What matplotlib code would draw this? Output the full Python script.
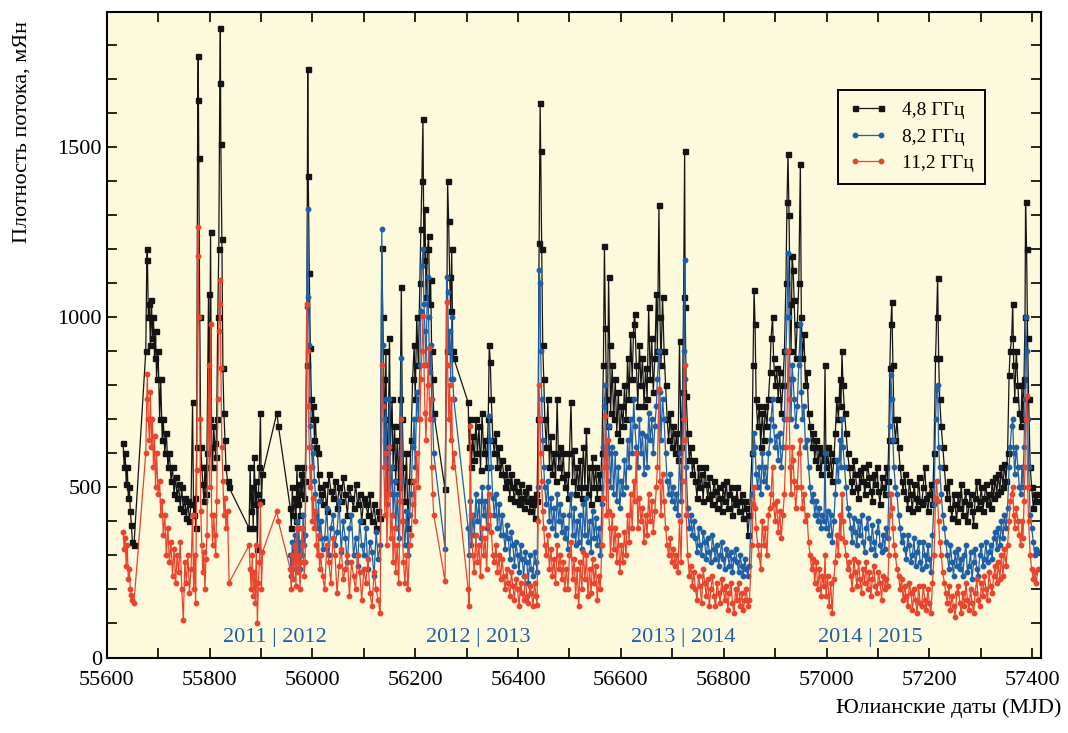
import numpy as np
import matplotlib
matplotlib.use("Agg")
import matplotlib.pyplot as plt
from matplotlib.ticker import MultipleLocator

plt.rcParams['font.family'] = ['Liberation Serif', 'DejaVu Serif']

# Даты наблюдений (MJD), по сезонам
mjd = [
    # 2011
    55632, 55634, 55636, 55638, 55640, 55642, 55644, 55646, 55648, 55650, 55653,
    55676, 55678, 55679, 55681, 55683, 55685, 55687, 55689, 55691, 55693, 55695, 55697,
    55700, 55703, 55705, 55708, 55710, 55713, 55716, 55719, 55722, 55725, 55728, 55731,
    55734, 55737, 55740, 55743, 55746, 55749, 55752, 55755, 55758, 55761, 55764, 55767,
    55769, 55771, 55773, 55775, 55777, 55778, 55779, 55781, 55783, 55785, 55787, 55789,
    55791, 55793, 55795, 55798, 55800, 55802, 55804, 55806, 55808, 55810, 55812, 55814,
    55816, 55818, 55820, 55821, 55822, 55824, 55826, 55828, 55830, 55832, 55835, 55838,
    55877, 55879, 55881, 55883, 55885, 55887, 55889, 55891, 55893, 55895, 55897, 55899,
    55901, 55903, 55931, 55934,
    # 2012
    55957, 55959, 55961, 55963, 55966, 55968, 55970, 55972, 55974, 55976, 55978, 55980,
    55982, 55984, 55986,
    55989, 55991, 55992, 55994, 55996, 55998, 56000, 56002, 56004, 56006, 56008, 56010,
    56012, 56014,
    56016, 56020, 56024, 56028, 56032, 56036, 56040, 56044, 56048, 56052, 56056, 56060,
    56064, 56068, 56072, 56076, 56080, 56084, 56088, 56092, 56096, 56100, 56104, 56108,
    56112, 56116, 56120, 56124, 56128, 56132,
    56135, 56137, 56139, 56141, 56143, 56145, 56148, 56150, 56152, 56155, 56157, 56160,
    56162, 56165, 56168, 56171, 56173, 56175, 56177, 56180, 56183, 56186, 56189, 56192,
    56195, 56198, 56200, 56203, 56206, 56209, 56211, 56213, 56215, 56217, 56219, 56221,
    56224, 56226, 56228, 56230, 56232, 56234, 56236,
    56258, 56261, 56263, 56265, 56267, 56269, 56271, 56273, 56275,
    # 2013
    56303, 56305, 56307, 56309, 56312, 56315, 56318, 56321, 56324, 56327, 56330, 56333,
    56336, 56339, 56342, 56344, 56346, 56348, 56351, 56354, 56357, 56360, 56363, 56366,
    56369, 56372, 56375, 56378, 56381, 56384, 56387, 56390, 56393, 56396, 56399, 56402,
    56405, 56408, 56411, 56414, 56417, 56420, 56423, 56426, 56429, 56432, 56435, 56437,
    56439, 56441, 56443, 56444, 56446, 56448, 56450, 56452, 56455, 56458, 56461, 56464,
    56467, 56470, 56473, 56476, 56479, 56482, 56485, 56488, 56491,
    56494, 56497, 56500, 56503, 56506, 56509, 56512, 56515, 56518, 56521, 56524, 56527,
    56530, 56533, 56536, 56539, 56542, 56545, 56548, 56551, 56554, 56557, 56560, 56563,
    56566, 56568, 56570, 56572, 56574, 56576, 56578, 56580, 56583, 56586, 56589, 56592,
    56595, 56598, 56601, 56604, 56607, 56610, 56613, 56616, 56619, 56622, 56625, 56627,
    56630, 56633, 56636, 56639, 56642, 56645, 56648, 56651, 56654, 56657, 56660, 56663,
    56666, 56669, 56671, 56674, 56676, 56678, 56681, 56684, 56687, 56690, 56693, 56696,
    56699, 56702, 56705, 56708, 56711, 56714, 56717, 56720, 56722, 56724, 56725, 56727,
    56730, 56733, 56736, 56739,
    # 2014
    56742, 56745, 56748, 56751, 56754, 56757, 56760, 56763, 56766, 56769, 56772, 56775,
    56778, 56781, 56784, 56787, 56790, 56793, 56796, 56799, 56802, 56805, 56808, 56811,
    56814, 56817, 56820, 56823, 56826, 56829, 56832, 56835, 56838, 56841, 56844, 56847,
    56850,
    56855, 56857, 56859, 56861, 56863, 56866, 56869, 56872, 56875, 56878, 56881, 56884,
    56887, 56890, 56892, 56895, 56897, 56900, 56903, 56906, 56909, 56912, 56915, 56918,
    56921, 56923, 56925, 56927, 56929, 56931, 56933, 56935, 56937, 56940, 56943, 56946,
    56949, 56951, 56953, 56956, 56959, 56962, 56965, 56968, 56971, 56974, 56977, 56980,
    56983, 56986, 56989, 56992, 56995, 56997, 56999, 57002, 57005, 57008, 57011, 57014,
    57017, 57020, 57023, 57026, 57028, 57030, 57032, 57035, 57038, 57041,
    # 2015
    57044, 57047, 57050, 57053, 57056, 57059, 57062, 57065, 57068, 57071, 57074, 57077,
    57080, 57083, 57086, 57089, 57092, 57095, 57098, 57101, 57104, 57107, 57110, 57113,
    57116, 57119,
    57121, 57123, 57125, 57127, 57129, 57131, 57134, 57137, 57140, 57143, 57146, 57149,
    57152, 57155, 57158, 57161, 57164, 57167, 57170, 57173, 57176, 57179, 57182, 57185,
    57188, 57191, 57194, 57197, 57200, 57203, 57206, 57209, 57212, 57214, 57216, 57218,
    57220, 57223, 57226, 57229, 57232, 57235, 57238, 57241, 57244, 57247, 57250, 57253,
    57256, 57259, 57262, 57265, 57268, 57271, 57274, 57277, 57280, 57283, 57286, 57289,
    57292, 57295, 57298, 57301, 57304, 57307, 57310, 57313, 57316, 57319, 57322, 57325,
    57328, 57331, 57334, 57337, 57340, 57343, 57346, 57349, 57352, 57355, 57357, 57360,
    57362, 57364, 57366, 57369, 57372, 57375, 57378, 57380, 57382, 57384, 57386, 57387,
    57389, 57391, 57393, 57396, 57399, 57402, 57405, 57408, 57411,
]

# Плотность потока на 4,8 ГГц, мЯн
flux_4_8 = [
    630, 560, 600, 510, 560, 470, 500, 430, 390, 340, 330,
    900, 1170, 1200, 1000, 1040, 920, 1050, 940, 1000, 880, 960, 820,
    900, 700, 820, 640, 700, 600, 660, 560, 600, 520, 560, 480,
    530, 470, 510, 440, 500, 430, 470, 410, 460, 400, 450, 750,
    420, 470, 380, 620, 1640, 1770, 1470, 1000, 620, 560, 510, 460,
    560, 480, 600, 1070, 700, 1250, 620, 560, 680, 630, 590, 700,
    1000, 1200, 1690, 1850, 1510, 1230, 850, 720, 640, 560, 520, 500,
    380, 560, 430, 500, 380, 590, 450, 520, 320, 480, 560, 720,
    460, 540, 720, 680,
    440, 380, 500, 420, 470, 400, 560, 450, 510, 420, 540, 480,
    560, 470, 520,
    860, 1730, 1415, 1130, 910, 760, 700, 740, 640, 700, 620, 600,
    540, 500,
    480, 450, 510, 430, 540, 490, 470, 520, 440, 500, 460, 530,
    480, 420, 500, 470, 440, 510, 450, 480, 400, 470, 450, 420,
    480, 400, 450, 380, 430, 410,
    1205, 1000, 820, 640, 900, 560, 700, 940, 620, 760, 560, 680,
    520, 640, 500, 760, 1090, 700, 560, 460, 600, 380, 520, 640,
    820, 920, 760, 1000, 860, 1100, 1260, 1400, 1585, 1170, 1320, 1060,
    1200, 1240, 1040, 1110, 900, 820, 720,
    495, 900, 1400, 1285, 1120, 1020, 1200, 900, 880,
    750, 620, 700, 560, 650, 580, 700, 600, 680, 550, 720, 600,
    640, 560, 700, 920, 870, 760, 640, 600, 660, 560, 620, 540,
    580, 540, 500, 560, 520, 470, 540, 500, 460, 520, 490, 450,
    510, 470, 440, 490, 460, 500, 430, 470, 450, 410, 480, 460,
    700, 1220, 1630, 1490, 1200, 920, 820, 700, 620, 760, 560, 650,
    540, 600, 520, 760, 560, 620, 530, 600, 500,
    540, 470, 600, 750, 520, 610, 480, 560, 500, 580, 470, 620,
    500, 670, 480, 560, 450, 590, 500, 560, 470, 540, 500, 600,
    860, 1210, 970, 760, 680, 1120, 920, 720, 860, 700, 820, 660,
    780, 640, 740, 680, 800, 700, 880, 760, 950, 820, 980, 1010,
    860, 740, 920, 800, 880, 740, 850, 760, 1030, 820, 940, 780,
    880, 1070, 900, 1330, 1000, 860, 1060, 900, 800, 700, 640, 720,
    620, 680, 600, 660, 580, 930, 620, 780, 1060, 1490, 1030, 770,
    660, 580, 620, 540,
    580, 520, 470, 560, 500, 540, 460, 560, 510, 470, 530, 480,
    450, 520, 490, 440, 500, 470, 430, 510, 460, 520, 440, 480,
    500, 420, 470, 450, 500, 430, 460, 480, 410, 460, 440, 360,
    420,
    600, 860, 1080, 980, 760, 680, 740, 620, 720, 640, 740, 680,
    760, 840, 940, 1000, 880, 800, 850, 760, 840, 720, 800, 900,
    1100, 1340, 1480, 1300, 1040, 900, 1180, 1140, 1050, 880, 980, 1100,
    1450, 1000, 880, 950, 800, 840, 720, 680, 620, 660, 580, 640,
    560, 620, 540, 600, 580, 860, 560, 620, 540, 600, 520, 580,
    660, 760, 700, 820, 740, 900, 800, 720, 660, 600,
    560, 520, 490, 580, 540, 500, 470, 550, 520, 560, 480, 510,
    570, 530, 490, 460, 540, 510, 560, 490, 450, 530, 500, 480,
    560, 520,
    640, 850, 980, 1045, 860, 700, 640, 700, 620, 560, 520, 490,
    540, 470, 440, 520, 480, 430, 510, 470, 440, 530, 460, 450,
    500, 560, 470, 430, 480, 510, 450, 600, 880, 1000, 1115, 880,
    760, 680, 620, 560, 500, 470, 520, 440, 410, 480, 450, 400,
    480, 440, 510, 420, 460, 490, 400, 450, 480, 430, 390, 470,
    520, 440, 460, 500, 430, 470, 510, 450, 480, 440, 520, 470,
    530, 480, 540, 490, 560, 500, 570, 520, 600, 830, 900, 940,
    1040, 860, 760, 900, 800, 720, 680, 800, 700, 820, 1000, 1340,
    1200, 940, 760, 560, 500, 440, 480, 460, 480,
]

# 8,2 ГГц: ряд начинается с MJD 55957
flux_8_2 = [
    300, 240, 340, 280, 360, 260, 400, 310, 380, 260, 340, 300,
    420, 330, 360,
    1030, 1320, 1060, 920, 680, 620, 560, 600, 520, 480, 420, 380,
    460, 350,
    400, 320, 350, 440, 300, 380, 420, 330, 370, 460, 310, 400,
    350, 280, 380, 420, 300, 350, 270, 400, 330, 300, 380, 260,
    340, 310, 240, 370, 290, 330,
    1260, 920, 700, 560, 760, 450, 600, 760, 480, 560, 420, 520,
    380, 480, 350, 600, 880, 520, 400, 330, 430, 300, 420, 480,
    620, 700, 560, 780, 700, 860, 1020, 1150, 1200, 1040, 960, 860,
    1120, 1000, 840, 920, 760, 700, 600,
    320, 1120, 1075, 900, 960, 820, 1000, 820, 760,
    380, 300, 460, 330, 420, 360, 480, 400, 460, 350, 500, 420,
    460, 380, 500, 710, 640, 560, 470, 420, 480, 380, 450, 360,
    420, 360, 320, 390, 350, 290, 370, 330, 270, 340, 300, 250,
    330, 290, 240, 310, 280, 220, 300, 260, 240, 310, 280, 250,
    500, 1140, 1100, 900, 760, 640, 560, 500, 450, 520, 400, 470,
    380, 440, 360, 480, 400, 450, 370, 420, 350,
    380, 320, 420, 480, 360, 440, 330, 400, 340, 420, 320, 450,
    360, 470, 340, 400, 310, 430, 350, 410, 330, 380, 300, 450,
    620, 740, 800, 560, 520, 680, 600, 500, 620, 480, 600, 460,
    560, 440, 520, 480, 580, 500, 640, 560, 700, 600, 760, 680,
    620, 560, 700, 600, 660, 540, 650, 560, 720, 640, 700, 600,
    680, 740, 820, 900, 780, 640, 760, 700, 600, 520, 480, 540,
    460, 500, 440, 480, 420, 600, 460, 700, 900, 1170, 820, 560,
    440, 380, 420, 360,
    400, 350, 310, 380, 330, 300, 370, 340, 290, 350, 310, 280,
    360, 320, 290, 330, 270, 300, 340, 290, 260, 320, 300, 270,
    310, 250, 290, 320, 280, 250, 300, 270, 240, 290, 260, 240,
    270,
    480, 600, 660, 620, 540, 500, 560, 480, 600, 520, 560, 500,
    600, 640, 700, 760, 680, 620, 650, 580, 660, 560, 620, 700,
    900, 1000, 1190, 1000, 820, 700, 860, 820, 760, 680, 740, 860,
    980, 780, 700, 740, 620, 640, 560, 500, 460, 480, 420, 460,
    400, 440, 380, 420, 400, 600, 380, 430, 360, 420, 340, 400,
    480, 580, 520, 640, 560, 700, 620, 560, 500, 440,
    420, 380, 340, 410, 370, 330, 400, 360, 420, 340, 310, 380,
    410, 350, 320, 390, 340, 300, 370, 400, 330, 310, 360, 320,
    380, 350,
    480, 680, 830, 760, 640, 560, 500, 480, 420, 380, 340, 360,
    320, 290, 360, 330, 280, 300, 350, 270, 310, 340, 280, 260,
    340, 300, 270, 330, 290, 250, 360, 450, 700, 790, 800, 620,
    560, 480, 420, 380, 340, 300, 260, 330, 280, 240, 310, 270,
    320, 260, 290, 240, 300, 330, 250, 270, 310, 230, 280, 320,
    260, 240, 300, 330, 270, 290, 340, 280, 310, 330, 290, 350,
    370, 320, 380, 330, 400, 350, 420, 380, 440, 560, 620, 680,
    700, 600, 540, 620, 560, 500, 480, 560, 500, 620, 760, 1000,
    900, 700, 560, 420, 380, 340, 300, 320, 310,
]

# Плотность потока на 11,2 ГГц, мЯн
flux_11_2 = [
    370, 320, 350, 270, 330, 230, 260, 200, 185, 170, 160,
    600, 760, 835, 700, 640, 780, 620, 700, 560, 650, 500, 600,
    480, 520, 420, 460, 360, 420, 300, 380, 280, 340, 240, 320,
    220, 300, 250, 340, 200, 110, 280, 220, 300, 190, 260, 420,
    200, 300, 160, 550, 1180, 1265, 1000, 700, 430, 330, 250, 310,
    200, 290, 360, 860, 500, 980, 420, 330, 420, 360, 300, 460,
    760, 960, 1040, 1110, 850, 620, 520, 420, 470, 380, 430, 220,
    330, 260, 200, 300, 180, 250, 160, 330, 100, 220, 280, 450,
    200, 310, 430, 400,
    260, 200, 300, 230, 330, 210, 380, 250, 300, 200, 280, 380,
    330, 240, 280,
    1040, 900, 740, 620, 500, 560, 400, 470, 380, 430, 330, 300,
    360, 260,
    300, 240, 200, 330, 280, 220, 350, 300, 190, 270, 320, 230,
    260, 300, 180, 280, 240, 200, 300, 250, 170, 260, 220, 290,
    190, 150, 250, 200, 170, 130,
    860, 740, 560, 420, 600, 330, 480, 620, 350, 420, 280, 380,
    250, 330, 220, 460, 700, 400, 280, 220, 300, 200, 330, 360,
    450, 520, 400, 600, 500, 700, 820, 900, 1005, 860, 720, 640,
    800, 910, 700, 760, 560, 480, 420,
    225, 1045, 860, 700, 800, 640, 760, 560, 600,
    200, 150, 680, 420, 300, 250, 360, 280, 330, 240, 380, 300,
    350, 260, 390, 480, 420, 370, 300, 280, 330, 250, 300, 230,
    290, 240, 200, 260, 220, 180, 250, 210, 170, 230, 200, 150,
    220, 190, 170, 240, 180, 160, 210, 190, 150, 220, 180, 155,
    400, 800, 700, 600, 520, 430, 380, 330, 300, 360, 260, 320,
    240, 290, 220, 330, 260, 300, 230, 280, 200,
    260, 200, 300, 340, 230, 290, 180, 260, 150, 280, 200, 310,
    230, 300, 180, 260, 190, 290, 220, 270, 170, 240, 200, 330,
    470, 560, 710, 420, 640, 430, 380, 300, 420, 320, 380, 280,
    360, 250, 330, 280, 370, 300, 420, 340, 480, 380, 520, 460,
    600, 380, 470, 400, 440, 340, 420, 360, 480, 400, 460, 370,
    430, 500, 560, 790, 520, 420, 540, 460, 380, 330, 300, 350,
    280, 320, 270, 300, 250, 400, 280, 520, 700, 860, 640, 420,
    300, 240, 270, 210,
    250, 200, 170, 240, 210, 160, 260, 220, 180, 230, 150, 200,
    240, 180, 150, 220, 190, 160, 230, 200, 170, 210, 140, 190,
    220, 160, 130, 200, 170, 220, 150, 190, 140, 170, 200, 150,
    170,
    330, 450, 500, 440, 380, 330, 300, 260, 400, 330, 380, 300,
    420, 440, 480, 560, 450, 400, 460, 370, 430, 350, 420, 480,
    620, 700, 900, 760, 560, 480, 620, 580, 520, 440, 500, 600,
    640, 500, 440, 480, 400, 420, 340, 300, 260, 290, 220, 280,
    200, 260, 180, 240, 210, 300, 180, 240, 150, 220, 130, 230,
    280, 360, 300, 420, 350, 480, 400, 340, 300, 260,
    280, 240, 200, 290, 250, 210, 280, 230, 190, 260, 220, 280,
    200, 250, 180, 230, 270, 210, 190, 250, 220, 170, 240, 200,
    230, 210,
    300, 420, 480, 440, 380, 330, 300, 260, 240, 200, 230, 170,
    210, 180, 150, 220, 190, 140, 200, 170, 130, 210, 160, 150,
    210, 170, 140, 200, 160, 130, 220, 300, 470, 520, 460, 400,
    340, 300, 250, 220, 190, 160, 210, 140, 180, 150, 120, 190,
    210, 160, 130, 190, 150, 220, 170, 140, 200, 160, 130, 190,
    230, 170, 150, 220, 180, 240, 200, 170, 250, 210, 190, 240,
    270, 220, 280, 230, 300, 240, 320, 270, 330, 400, 460, 480,
    500, 420, 380, 440, 400, 360, 330, 400, 350, 460, 560, 700,
    770, 500, 400, 300, 260, 230, 250, 220, 260,
]

# Подписи границ сезонов
season_labels = ["2011 | 2012", "2012 | 2013", "2013 | 2014", "2014 | 2015"]
season_label_mjd = [55928, 56323, 56721, 57085]

mjd = np.array(mjd, dtype=float)
flux_4_8 = np.array(flux_4_8, dtype=float)
flux_8_2 = np.array(flux_8_2, dtype=float)
flux_11_2 = np.array(flux_11_2, dtype=float)
assert len(mjd) == len(flux_4_8) == len(flux_11_2)
mjd_8_2 = mjd[-len(flux_8_2):]

bg = '#fdf9dd'
c_black = '#141414'
c_blue = '#1f5fa6'
c_red = '#e8452e'

fig = plt.figure(figsize=(10.68, 7.33), dpi=100)
ax = fig.add_axes([0.0999, 0.103, 0.8748, 0.880])
ax.set_facecolor(bg)

ax.plot(mjd, flux_4_8, color=c_black, lw=0.9, marker='s', ms=3.6,
        mec=c_black, mfc=c_black, label='4,8 ГГц')
ax.plot(mjd_8_2, flux_8_2, color=c_blue, lw=0.9, marker='o', ms=3.2,
        mec=c_blue, mfc=c_blue, label='8,2 ГГц')
ax.plot(mjd, flux_11_2, color=c_red, lw=0.9, marker='o', ms=3.2,
        mec=c_red, mfc=c_red, label='11,2 ГГц')

for txt, xm in zip(season_labels, season_label_mjd):
    ax.text(xm, 60, txt, color='#1f5fa6', fontsize=16, ha='center', va='center')

ax.set_xlim(55600, 57417)
ax.set_ylim(0, 1897)
ax.xaxis.set_major_locator(MultipleLocator(200))
ax.xaxis.set_minor_locator(MultipleLocator(100))
ax.yaxis.set_major_locator(MultipleLocator(500))
ax.yaxis.set_minor_locator(MultipleLocator(100))
ax.tick_params(which='both', direction='in', top=True, right=True,
               length=7, width=1.2, labelsize=16)
ax.tick_params(axis='x', pad=10)
for s in ax.spines.values():
    s.set_linewidth(1.5)

fig.text(0.021, 0.82, 'Плотность потока, мЯн', rotation=90, fontsize=16,
         ha='center', va='center')
fig.text(0.994, 0.02, 'Юлианские даты (MJD)', fontsize=16, ha='right', va='bottom')

leg = ax.legend(loc='upper right', bbox_to_anchor=(0.951, 0.895), fontsize=14,
                numpoints=2, handlelength=1.9, fancybox=False, framealpha=1,
                facecolor=bg, edgecolor='black', borderpad=0.6, labelspacing=0.45)
leg.get_frame().set_linewidth(1.4)

fig.savefig('out.png', dpi=100)
